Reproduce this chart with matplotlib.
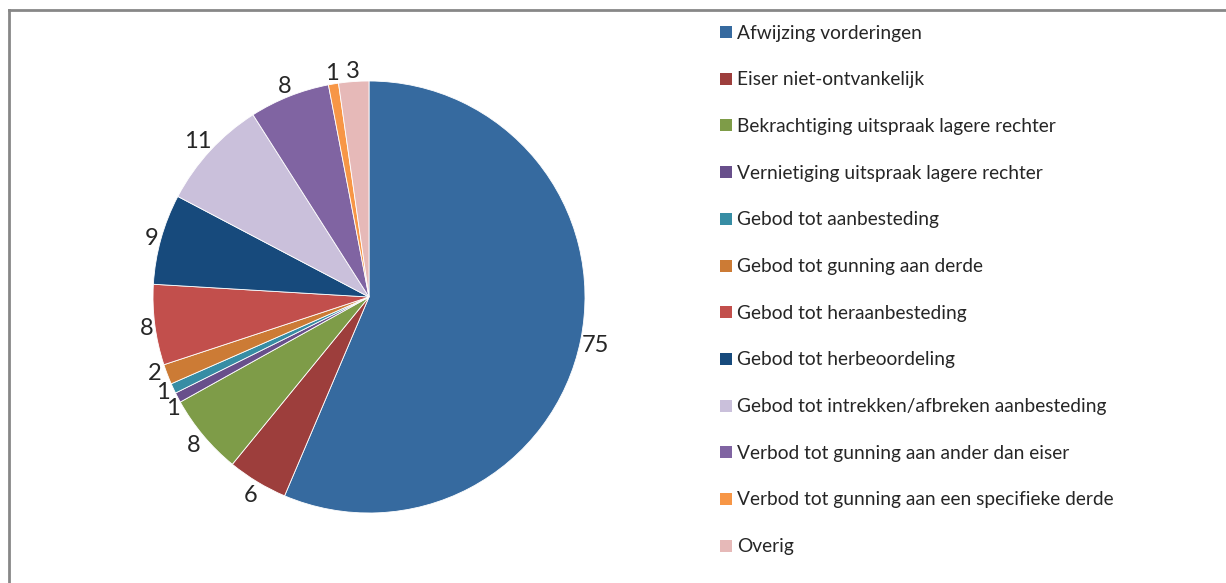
import numpy as np
import matplotlib
matplotlib.use("Agg")
import matplotlib.pyplot as plt
from matplotlib.patches import Rectangle
from matplotlib.lines import Line2D

categories = [
    "Afwijzing vorderingen",
    "Eiser niet-ontvankelijk",
    "Bekrachtiging uitspraak lagere rechter",
    "Vernietiging uitspraak lagere rechter",
    "Gebod tot aanbesteding",
    "Gebod tot gunning aan derde",
    "Gebod tot heraanbesteding",
    "Gebod tot herbeoordeling",
    "Gebod tot intrekken/afbreken aanbesteding",
    "Verbod tot gunning aan ander dan eiser",
    "Verbod tot gunning aan een specifieke derde",
    "Overig",
]
counts = [75, 6, 8, 1, 1, 2, 8, 9, 11, 8, 1, 3]
colors = [
    "#366A9F", "#9D3E3C", "#7E9C48", "#684F8B", "#378DA4", "#CC7B35",
    "#C24F4C", "#174A7C", "#CAC0DB", "#8064A2", "#F79646", "#E6B9B8",
]

W, H = 1226, 583
fig = plt.figure(figsize=(W / 100, H / 100), dpi=100)
fig.patch.set_facecolor("white")

font = "Lato"
text_color = "#262626"

# chart frame (top and left edges visible)
border = "#878787"
fig.add_artist(Line2D([8.5 / W, 8.5 / W], [0, 1 - 9.5 / H], transform=fig.transFigure,
                      color=border, lw=2))
fig.add_artist(Line2D([8.5 / W, 1], [1 - 9.5 / H, 1 - 9.5 / H], transform=fig.transFigure,
                      color=border, lw=2))

# pie, clockwise from twelve o'clock
cx, cy, r = 369, 297, 216
ax = fig.add_axes([(cx - r) / W, (H - cy - r) / H, 2 * r / W, 2 * r / H])
wedges, _ = ax.pie(counts, colors=colors, startangle=90, counterclock=False,
                   radius=1, wedgeprops=dict(edgecolor="white", linewidth=0.6))
ax.set_xlim(-1, 1)
ax.set_ylim(-1, 1)
ax.set_aspect("equal")
ax.axis("off")

# value labels just outside each slice: the label box touches the rim
total = float(sum(counts))
cum = np.cumsum([0] + counts[:-1])
gap = 2.0            # pixels between rim and label box
digit_w, box_h = 11.0, 19.0
nudge_px = {3: (5, -4), 4: (0, 3), 5: (-3, 7)}   # spread the crowded small labels
for i, (c0, v) in enumerate(zip(cum, counts)):
    ang = np.deg2rad((c0 + v / 2) / total * 360)
    ux, uy = np.sin(ang), np.cos(ang)
    w = digit_w * len(str(v))
    dist = r + gap + abs(ux) * w / 2 + abs(uy) * box_h / 2
    px = cx + dist * ux
    py = (H - cy) + dist * uy - 2
    dx, dy = nudge_px.get(i, (0, 0))
    fig.text((px + dx) / W, (py + dy) / H, str(v), ha="center", va="center",
             fontsize=17, family=font, color=text_color)

# legend
x_box, size = 720, 12
y0, step = 32, 46.7
for i, (name, col) in enumerate(zip(categories, colors)):
    yc = y0 + i * step
    fig.add_artist(Rectangle((x_box / W, 1 - (yc + size / 2) / H), size / W, size / H,
                             transform=fig.transFigure, facecolor=col, edgecolor="none"))
    fig.text(737 / W, 1 - (yc + 1) / H, name, ha="left", va="center", fontsize=13.8,
             family=font, color=text_color)

fig.savefig("out.png", dpi=100)
